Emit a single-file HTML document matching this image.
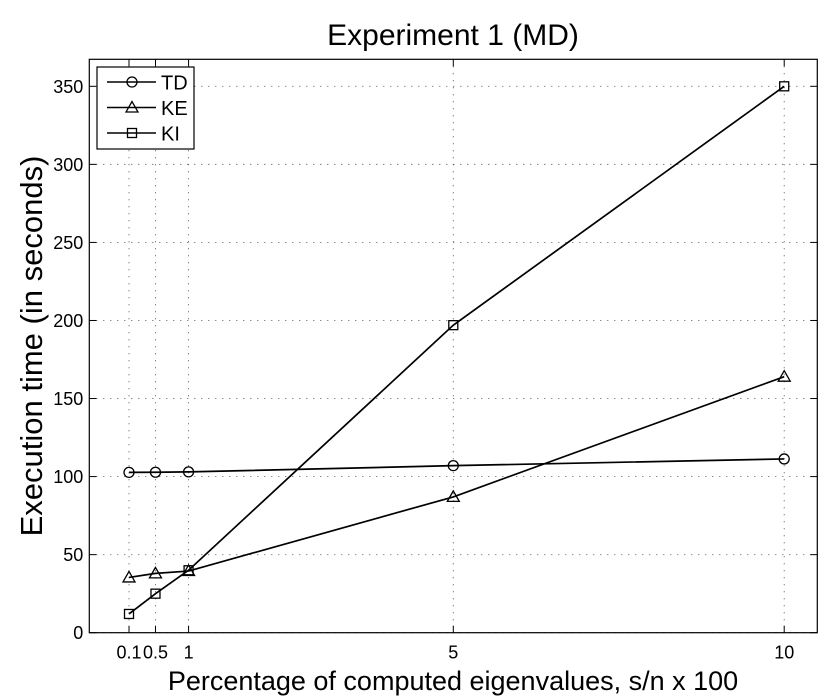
<!DOCTYPE html>
<html><head><meta charset="utf-8"><style>
html,body{margin:0;padding:0;background:#fff}
svg{display:block;font-family:"Liberation Sans",sans-serif}
</style></head><body>
<svg id="chart" width="830" height="698" xmlns="http://www.w3.org/2000/svg"></svg>
<script>
const xCats = [0.1, 0.5, 1, 5, 10];
const xTickLabels = ["0.1", "0.5", "1", "5", "10"];
const yTicks = [0, 50, 100, 150, 200, 250, 300, 350];
const seriesNames = ["TD", "KE", "KI"];
const tdValues = [102.7, 102.8, 103, 107, 111.3];
const keValues = [35.4, 38, 39.5, 87, 164];
const kiValues = [12, 25, 40, 197, 350];

const L = 89.3, R = 817.3, T = 59.3, B = 632.7;
const xMin = -0.5, xMax = 10.5, yMin = 0, yMax = 367.3;
const xs = v => L + (v - xMin) / (xMax - xMin) * (R - L);
const ys = v => B - (v - yMin) / (yMax - yMin) * (B - T);
const NS = "http://www.w3.org/2000/svg";
const svg = document.getElementById('chart');
function mk(tag, attrs, parent) {
  const e = document.createElementNS(NS, tag);
  for (const k in attrs) e.setAttribute(k, attrs[k]);
  (parent || svg).appendChild(e);
  return e;
}
xCats.forEach((c, i) => {
  const g = mk('line', {x1: xs(c), x2: xs(c), y1: T, y2: B, stroke: '#444', 'stroke-width': 0.9, 'stroke-dasharray': '1,6'});
  
  
});
yTicks.forEach(v => {
  const g = mk('line', {x1: L, x2: R, y1: ys(v), y2: ys(v), stroke: '#444', 'stroke-width': 0.9, 'stroke-dasharray': '1,6'});
  
  
});
const box = mk('rect', {x: L, y: T, width: R - L, height: B - T, fill: 'none', stroke: '#000', 'stroke-width': 1.2});


xCats.forEach((c, i) => {
  mk('line', {x1: xs(c), x2: xs(c), y1: B, y2: B - 7, stroke: '#000'});
  mk('line', {x1: xs(c), x2: xs(c), y1: T, y2: T + 7, stroke: '#000'});
  const t = mk('text', {x: xs(c), y: B + 26, 'font-size': 18, 'text-anchor': 'middle'});
  t.textContent = xTickLabels[i];
  
  
});
yTicks.forEach(v => {
  mk('line', {x1: L, x2: L + 7, y1: ys(v), y2: ys(v), stroke: '#000'});
  mk('line', {x1: R, x2: R - 7, y1: ys(v), y2: ys(v), stroke: '#000'});
  const t = mk('text', {x: L - 6, y: ys(v) + 6.5, 'font-size': 18, 'text-anchor': 'end'});
  t.textContent = String(v);
  
  
});
function marker(kind, x, y, parent) {
  let e;
  if (kind === 'TD') e = mk('circle', {cx: x, cy: y, r: 5, fill: 'none', stroke: '#000', 'stroke-width': 1.3}, parent);
  else if (kind === 'KE') e = mk('polygon', {points: `${x},${y-6} ${x-6},${y+4.5} ${x+6},${y+4.5}`, fill: 'none', stroke: '#000', 'stroke-width': 1.3}, parent);
  else e = mk('rect', {x: x - 4.5, y: y - 4.5, width: 9, height: 9, fill: 'none', stroke: '#000', 'stroke-width': 1.3}, parent);
  return e;
}
const allSeries = [tdValues, keValues, kiValues];
allSeries.forEach((vals, si) => {
  const g = mk('g', {});
  
  
  const pts = vals.map((v, i) => xs(xCats[i]) + ',' + ys(v)).join(' ');
  const pl = mk('polyline', {points: pts, fill: 'none', stroke: '#000', 'stroke-width': 1.7}, g);
  
  
  vals.forEach((v, i) => {
    const m = marker(seriesNames[si], xs(xCats[i]), ys(v), g);
    
    
  });
});
const lg = mk('g', {});


mk('rect', {x: 97, y: 67, width: 97, height: 82, fill: '#fff', stroke: '#000', 'stroke-width': 1.2}, lg);
seriesNames.forEach((n, i) => {
  const y = 82 + i * 25.5;
  const e = mk('g', {}, lg);
  
  
  mk('line', {x1: 107, x2: 156, y1: y, y2: y, stroke: '#000', 'stroke-width': 1.4}, e);
  marker(n, 132, y, e);
  const t = mk('text', {x: 161, y: y + 7.5, 'font-size': 20}, e);
  t.textContent = n;
});
const title = mk('text', {x: 453, y: 45, 'font-size': 30, 'text-anchor': 'middle'});
title.textContent = 'Experiment 1 (MD)';


const xl = mk('text', {x: 453, y: 690, 'font-size': 27, 'text-anchor': 'middle'});
xl.textContent = 'Percentage of computed eigenvalues, s/n x 100';


const yl = mk('text', {x: 0, y: 0, 'font-size': 31, 'text-anchor': 'middle', transform: 'translate(42,346) rotate(-90)'});
yl.textContent = 'Execution time (in seconds)';


</script>
</body></html>
